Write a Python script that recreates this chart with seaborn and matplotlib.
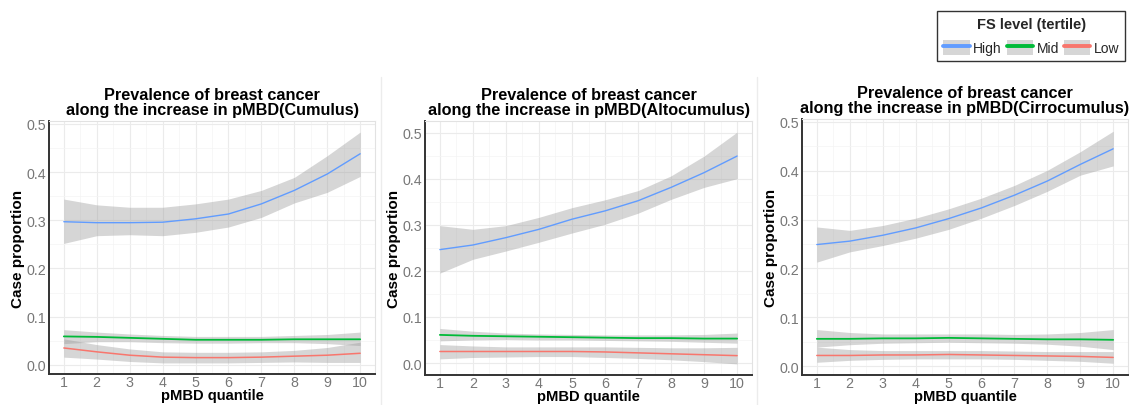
import numpy as np
import pandas as pd
import matplotlib
matplotlib.use("Agg")
import matplotlib.pyplot as plt
from matplotlib.lines import Line2D
from matplotlib.patches import Patch
import seaborn as sns

quantiles = [1, 2, 3, 4, 5, 6, 7, 8, 9, 10]
groups = ["High", "Mid", "Low"]
panel_titles = [
    "Prevalence of breast cancer\nalong the increase in pMBD(Cumulus)",
    "Prevalence of breast cancer\nalong the increase in pMBD(Altocumulus)",
    "Prevalence of breast cancer\nalong the increase in pMBD(Cirrocumulus)",
]
y_ticks = [0.0, 0.1, 0.2, 0.3, 0.4, 0.5]

# Cumulus
cum_high = [0.297, 0.295, 0.295, 0.296, 0.303, 0.313, 0.334, 0.362, 0.396, 0.438]
cum_high_lo = [0.252, 0.268, 0.270, 0.268, 0.275, 0.286, 0.306, 0.336, 0.358, 0.391]
cum_high_hi = [0.344, 0.332, 0.327, 0.327, 0.334, 0.344, 0.362, 0.389, 0.434, 0.483]
cum_mid = [0.059, 0.058, 0.056, 0.054, 0.052, 0.052, 0.052, 0.053, 0.053, 0.053]
cum_mid_lo = [0.044, 0.048, 0.048, 0.046, 0.045, 0.045, 0.046, 0.046, 0.044, 0.040]
cum_mid_hi = [0.073, 0.068, 0.064, 0.061, 0.059, 0.059, 0.059, 0.061, 0.063, 0.068]
cum_low = [0.035, 0.027, 0.020, 0.016, 0.015, 0.015, 0.016, 0.018, 0.020, 0.024]
cum_low_lo = [0.016, 0.012, 0.007, 0.004, 0.004, 0.004, 0.005, 0.006, 0.005, 0.005]
cum_low_hi = [0.054, 0.042, 0.033, 0.027, 0.026, 0.026, 0.027, 0.030, 0.036, 0.047]

# Altocumulus
alt_high = [0.246, 0.256, 0.272, 0.290, 0.312, 0.330, 0.352, 0.381, 0.413, 0.449]
alt_high_lo = [0.195, 0.225, 0.243, 0.262, 0.282, 0.301, 0.325, 0.355, 0.381, 0.400]
alt_high_hi = [0.298, 0.290, 0.298, 0.316, 0.337, 0.354, 0.374, 0.406, 0.449, 0.501]
alt_mid = [0.061, 0.059, 0.058, 0.057, 0.056, 0.055, 0.054, 0.054, 0.053, 0.053]
alt_mid_lo = [0.048, 0.050, 0.051, 0.050, 0.050, 0.049, 0.048, 0.047, 0.045, 0.043]
alt_mid_hi = [0.075, 0.069, 0.065, 0.063, 0.062, 0.061, 0.061, 0.061, 0.062, 0.065]
alt_low = [0.025, 0.025, 0.025, 0.025, 0.025, 0.024, 0.022, 0.020, 0.018, 0.016]
alt_low_lo = [0.009, 0.012, 0.013, 0.014, 0.014, 0.012, 0.010, 0.007, 0.003, -0.002]
alt_low_hi = [0.040, 0.037, 0.035, 0.035, 0.035, 0.035, 0.034, 0.033, 0.033, 0.034]

# Cirrocumulus
cir_high = [0.249, 0.256, 0.268, 0.283, 0.302, 0.324, 0.350, 0.379, 0.413, 0.445]
cir_high_lo = [0.213, 0.234, 0.247, 0.262, 0.280, 0.303, 0.329, 0.358, 0.391, 0.410]
cir_high_hi = [0.285, 0.278, 0.288, 0.303, 0.322, 0.344, 0.370, 0.401, 0.439, 0.481]
cir_mid = [0.056, 0.056, 0.057, 0.057, 0.058, 0.057, 0.056, 0.055, 0.055, 0.054]
cir_mid_lo = [0.039, 0.044, 0.047, 0.048, 0.049, 0.048, 0.047, 0.045, 0.041, 0.034]
cir_mid_hi = [0.075, 0.069, 0.066, 0.066, 0.066, 0.066, 0.065, 0.066, 0.069, 0.075]
cir_low = [0.022, 0.022, 0.023, 0.023, 0.024, 0.023, 0.022, 0.021, 0.020, 0.018]
cir_low_lo = [0.008, 0.012, 0.014, 0.015, 0.015, 0.015, 0.014, 0.012, 0.010, 0.006]
cir_low_hi = [0.039, 0.034, 0.032, 0.032, 0.032, 0.032, 0.031, 0.030, 0.030, 0.030]

panels = [
    {"High": (cum_high, cum_high_lo, cum_high_hi), "Mid": (cum_mid, cum_mid_lo, cum_mid_hi),
     "Low": (cum_low, cum_low_lo, cum_low_hi)},
    {"High": (alt_high, alt_high_lo, alt_high_hi), "Mid": (alt_mid, alt_mid_lo, alt_mid_hi),
     "Low": (alt_low, alt_low_lo, alt_low_hi)},
    {"High": (cir_high, cir_high_lo, cir_high_hi), "Mid": (cir_mid, cir_mid_lo, cir_mid_hi),
     "Low": (cir_low, cir_low_lo, cir_low_hi)},
]

palette = {"High": "#619CFF", "Mid": "#00BA38", "Low": "#F8766D"}
widths = {"High": 1.0, "Mid": 1.3, "Low": 1.1}

sns.set_theme(style="white")
plt.rcParams["font.family"] = ["Liberation Sans", "DejaVu Sans"]

W, H = 1131, 406
fig = plt.figure(figsize=(W / 100, H / 100), dpi=100)

# pixel boxes: left, right, top, bottom
boxes = [(49, 375, 122, 375), (425, 752, 122, 376), (802, 1128, 120, 376)]
ylims = [(-0.019, 0.506), (-0.026, 0.525), (-0.018, 0.506)]

for i, (box, pdata) in enumerate(zip(boxes, panels)):
    l, r, t, b = box
    ax = fig.add_axes([l / W, 1 - b / H, (r - l) / W, (b - t) / H])
    rows = []
    for g in groups:
        fit, lo, hi = pdata[g]
        for q, v in zip(quantiles, fit):
            rows.append({"quantile": q, "prop": v, "group": g})
        ax.fill_between(quantiles, lo, hi, color="#999999", alpha=0.4, linewidth=0, zorder=1)
    df = pd.DataFrame(rows)
    for g in groups:
        sns.lineplot(data=df[df.group == g], x="quantile", y="prop", color=palette[g],
                     linewidth=widths[g], ax=ax, zorder=3, legend=False)
    ax.set_xlim(0.55, 10.45)
    ax.set_ylim(*ylims[i])
    ax.set_xticks(quantiles)
    ax.set_yticks(y_ticks)
    ax.set_yticklabels([f"{v:.1f}" for v in y_ticks])
    ax.set_xticks([q + 0.5 for q in quantiles[:-1]], minor=True)
    ax.set_yticks([0.05, 0.15, 0.25, 0.35, 0.45], minor=True)
    ax.grid(True, which="major", color="#ebebeb", linewidth=0.8, zorder=0)
    ax.grid(True, which="minor", color="#f4f4f4", linewidth=0.5, zorder=0)
    ax.set_axisbelow(True)
    ax.tick_params(axis="y", which="major", labelsize=10.3, labelcolor="#777777",
                   length=0, pad=2)
    ax.tick_params(axis="x", which="major", labelsize=10.3, labelcolor="#777777",
                   length=0, pad=1)
    ax.tick_params(axis="both", which="minor", length=0)
    ax.set_xlabel("pMBD quantile", fontsize=10.6, fontweight="bold", color="black", labelpad=-1)
    ax.set_ylabel("Case proportion", fontsize=11, fontweight="bold", color="black", labelpad=1)
    ax.set_title(panel_titles[i], fontsize=11.7, fontweight="bold", color="black",
                 linespacing=1.0, pad=5)
    for s in ["left", "bottom"]:
        ax.spines[s].set_color("#333333")
        ax.spines[s].set_linewidth(1.4)
    for s in ["top", "right"]:
        ax.spines[s].set_color("#e2e2e2")
        ax.spines[s].set_linewidth(0.8)

# faint separators between panel images
for x in [381, 757]:
    fig.add_artist(Line2D([x / W, x / W], [0, 1 - 78 / H], transform=fig.transFigure,
                          color="#ececec", linewidth=1.0))

handles = [(Patch(facecolor="#d6d6d6", edgecolor="none"),
            Line2D([0], [0], color=palette[g], linewidth=2.8)) for g in groups]
leg = fig.legend(handles, groups, title="FS level (tertile)", ncol=3,
                 loc="upper left", bbox_to_anchor=(937 / W, 1 - 12 / H),
                 frameon=True, fontsize=10, title_fontproperties={"weight": "bold", "size": 10.5},
                 handlelength=1.9, handleheight=1.35, handletextpad=0.25, columnspacing=0.35,
                 borderpad=0.45, fancybox=False, borderaxespad=0)
leg.get_frame().set_edgecolor("black")
leg.get_frame().set_linewidth(1.0)
leg._legend_box.sep = 6

fig.savefig("out.png", dpi=100, facecolor="white")
